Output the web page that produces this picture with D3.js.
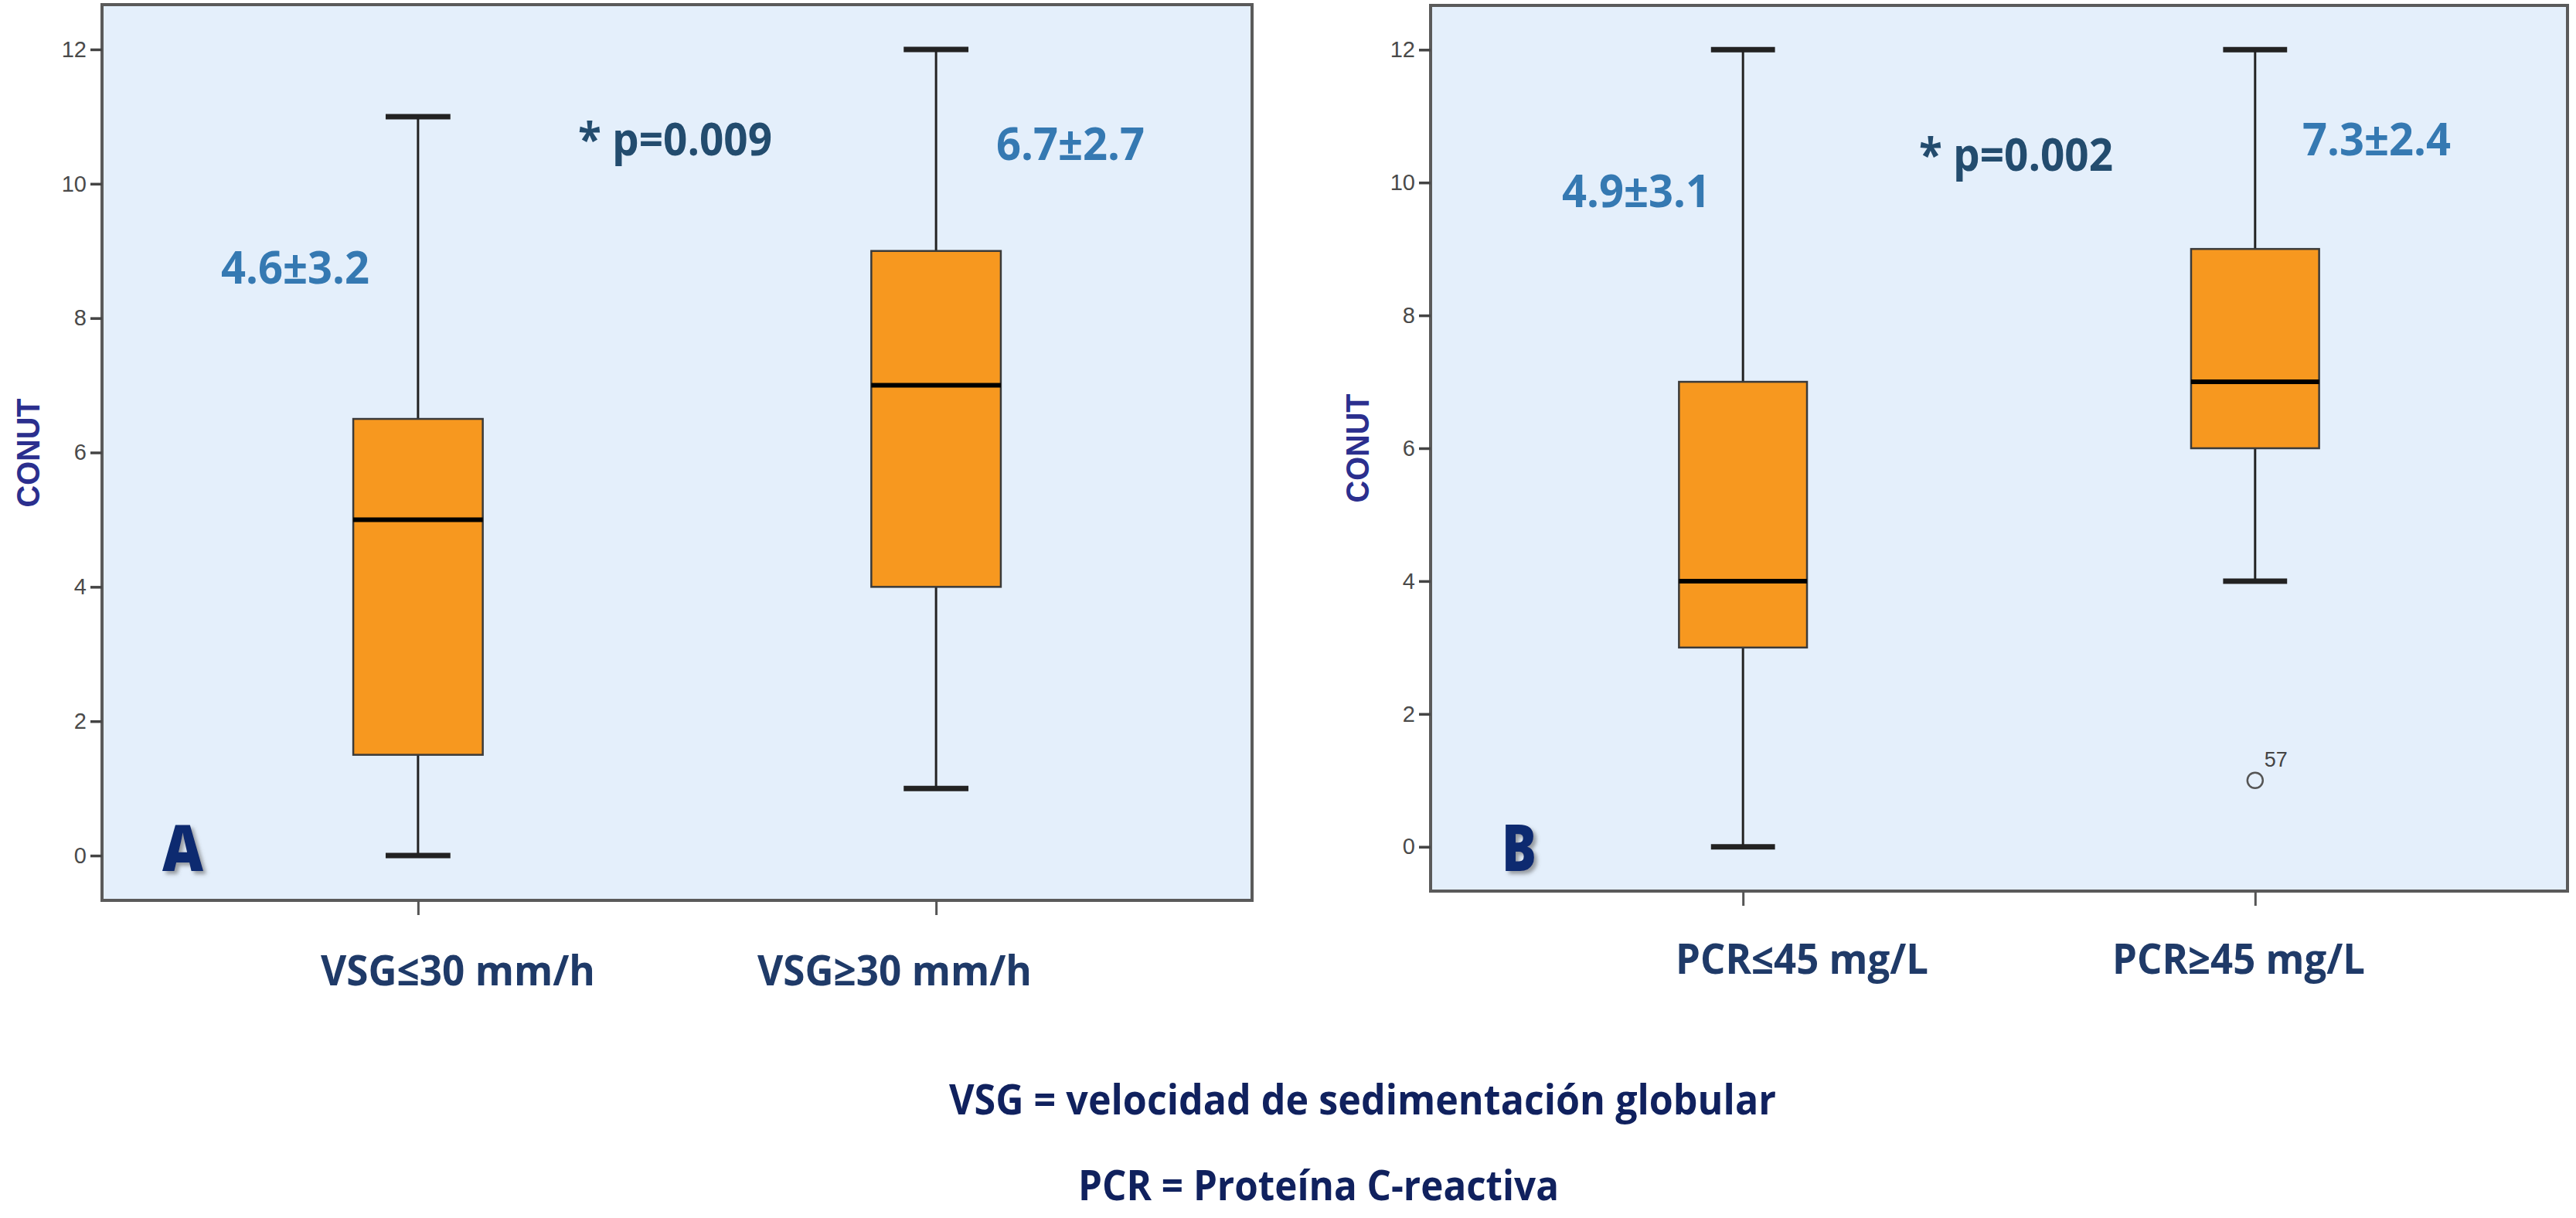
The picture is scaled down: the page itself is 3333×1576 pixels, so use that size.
<!DOCTYPE html>
<html>
<head>
<meta charset="utf-8">
<script src="https://cdn.jsdelivr.net/npm/d3@7"></script>
<style>
  html, body { margin: 0; padding: 0; background: #ffffff; }
  svg { display: block; }
</style>
</head>
<body>
<svg id="chart" width="3333" height="1576"></svg>
<script>
// ---------------- DATA ----------------
const yTicks = [0, 2, 4, 6, 8, 10, 12];
const yLabel = "CONUT";

// Panel A
const catsA   = ["VSG≤30 mm/h", "VSG≥30 mm/h"];
const minA    = [0, 1];
const q1A     = [1.5, 4];
const medA    = [5, 7];
const q3A     = [6.5, 9];
const maxA    = [11, 12];
const meanA   = ["4.6±3.2", "6.7±2.7"];
const pA      = "* p=0.009";

// Panel B
const catsB   = ["PCR≤45 mg/L", "PCR≥45 mg/L"];
const minB    = [0, 4];
const q1B     = [3, 6];
const medB    = [4, 7];
const q3B     = [7, 9];
const maxB    = [12, 12];
const meanB   = ["4.9±3.1", "7.3±2.4"];
const pB      = "* p=0.002";
const outlierGroupB = [1];
const outlierValueB = [1];
const outlierLabelB = ["57"];

const captions = ["VSG = velocidad de sedimentación globular", "PCR = Proteína C-reactiva"];

// ---------------- LAYOUT (pixels) ----------------
const layoutA = {
  x0: 132, x1: 1620, y0: 6, y1: 1165, letter: "A",
  letterPos: { x: 210, y: 1127, w: 53 },
  conut: { x: 36, y: 586 },
  p: { x: 748, y: 201, w: 251 },
  means: [{ x: 478, y: 367, anchor: "end" }, { x: 1289, y: 207, anchor: "start" }],
  labels: [{ x: 415, y: 1275, w: 355 }, { x: 980, y: 1275, w: 355 }]
};
const layoutB = {
  x0: 1851, x1: 3322, y0: 7, y1: 1153, letter: "B",
  letterPos: { x: 1943, y: 1127, w: 45 },
  conut: { x: 1756, y: 580 },
  p: { x: 2483, y: 221, w: 251 },
  means: [{ x: 2213, y: 268, anchor: "end" }, { x: 2979, y: 201, anchor: "start" }],
  labels: [{ x: 2168, y: 1260, w: 327 }, { x: 2733, y: 1260, w: 327 }]
};

const svg = d3.select("#chart");
const defs = svg.append("defs");
const f = defs.append("filter").attr("id", "shadow").attr("x", "-30%").attr("y", "-30%").attr("width", "160%").attr("height", "160%");
f.append("feDropShadow").attr("dx", 4).attr("dy", 4).attr("stdDeviation", 2.5).attr("flood-color", "#555").attr("flood-opacity", 0.55);

const BOLD = "'Open Sans', 'Noto Sans', sans-serif";
const NARROW = "'Liberation Sans Narrow', 'Liberation Sans', Arial, sans-serif";

function drawPanel(L, cats, mins, q1, med, q3, maxs, means, pText, outG, outV, outL) {
  const g = svg.append("g");
  const y = d3.scaleLinear().domain([-2 / 3, 12 + 2 / 3]).range([L.y1, L.y0]);
  const x = d3.scalePoint().domain(cats).range([L.x0, L.x1]).padding(0.61);
  const step = x.step();
  const boxW = step * 0.25;
  const capW = boxW * 0.5;

  // plot background + frame
  g.append("rect")
    .attr("x", L.x0).attr("y", L.y0)
    .attr("width", L.x1 - L.x0).attr("height", L.y1 - L.y0)
    .attr("fill", "#E4EFFB")
    .attr("stroke", "#5a5a5a").attr("stroke-width", 4);

  // y axis
  const yAxis = g.append("g")
    .attr("transform", `translate(${L.x0},0)`)
    .call(d3.axisLeft(y).tickValues(yTicks).tickSize(15).tickPadding(5));
  yAxis.select(".domain").remove();
  yAxis.selectAll(".tick line").attr("stroke", "#444").attr("stroke-width", 3.5);
  yAxis.selectAll(".tick text")
    .attr("font-family", NARROW).attr("font-size", 29).attr("fill", "#4a4a4a");

  // x axis ticks
  const xAxis = g.append("g")
    .attr("transform", `translate(0,${L.y1})`)
    .call(d3.axisBottom(x).tickSize(19).tickFormat(""));
  xAxis.select(".domain").remove();
  xAxis.selectAll(".tick line").attr("stroke", "#555").attr("stroke-width", 3);

  // boxes
  const data = cats.map((c, i) => ({ c, min: mins[i], q1: q1[i], med: med[i], q3: q3[i], max: maxs[i] }));
  const b = g.selectAll(".box").data(data).enter().append("g");
  // whiskers
  b.append("line")
    .attr("x1", d => x(d.c)).attr("x2", d => x(d.c))
    .attr("y1", d => y(d.max)).attr("y2", d => y(d.q3))
    .attr("stroke", "#222").attr("stroke-width", 3);
  b.append("line")
    .attr("x1", d => x(d.c)).attr("x2", d => x(d.c))
    .attr("y1", d => y(d.q1)).attr("y2", d => y(d.min))
    .attr("stroke", "#222").attr("stroke-width", 3);
  // caps
  b.append("line")
    .attr("x1", d => x(d.c) - capW / 2).attr("x2", d => x(d.c) + capW / 2)
    .attr("y1", d => y(d.max)).attr("y2", d => y(d.max))
    .attr("stroke", "#222").attr("stroke-width", 7);
  b.append("line")
    .attr("x1", d => x(d.c) - capW / 2).attr("x2", d => x(d.c) + capW / 2)
    .attr("y1", d => y(d.min)).attr("y2", d => y(d.min))
    .attr("stroke", "#222").attr("stroke-width", 7);
  // box
  b.append("rect")
    .attr("x", d => x(d.c) - boxW / 2).attr("width", boxW)
    .attr("y", d => y(d.q3)).attr("height", d => y(d.q1) - y(d.q3))
    .attr("fill", "#F7981F").attr("stroke", "#3a3a3a").attr("stroke-width", 2.5);
  // median
  b.append("line")
    .attr("x1", d => x(d.c) - boxW / 2).attr("x2", d => x(d.c) + boxW / 2)
    .attr("y1", d => y(d.med)).attr("y2", d => y(d.med))
    .attr("stroke", "#000").attr("stroke-width", 6);

  // outliers
  if (outG) {
    outG.forEach((gi, k) => {
      const cx = x(cats[gi]), cy = y(outV[k]);
      g.append("circle").attr("cx", cx).attr("cy", cy).attr("r", 10)
        .attr("fill", "none").attr("stroke", "#555").attr("stroke-width", 2.5);
      g.append("text").attr("x", cx + 12).attr("y", cy - 18)
        .attr("font-family", NARROW).attr("font-size", 27).attr("fill", "#444")
        .text(outL[k]);
    });
  }

  // y label
  g.append("text")
    .attr("transform", `translate(${L.conut.x + 15},${L.conut.y}) rotate(-90)`)
    .attr("text-anchor", "middle")
    .attr("font-family", "'Liberation Sans', Arial, sans-serif").attr("font-weight", "bold")
    .attr("font-size", 42).attr("fill", "#2B2F8E")
    .attr("textLength", 141).attr("lengthAdjust", "spacingAndGlyphs")
    .text(yLabel);

  // mean labels
  means.forEach((m, i) => {
    g.append("text")
      .attr("x", L.means[i].x).attr("y", L.means[i].y)
      .attr("text-anchor", L.means[i].anchor)
      .attr("font-family", BOLD).attr("font-weight", 700).attr("font-size", 59)
      .attr("fill", "#3579B2")
      .attr("textLength", 192).attr("lengthAdjust", "spacingAndGlyphs")
      .text(m);
  });

  // p-value
  g.append("text")
    .attr("x", L.p.x).attr("y", L.p.y)
    .attr("font-family", BOLD).attr("font-weight", 700).attr("font-size", 59)
    .attr("fill", "#234C6E")
    .attr("textLength", L.p.w).attr("lengthAdjust", "spacingAndGlyphs")
    .text(pText);

  // category labels
  cats.forEach((c, i) => {
    g.append("text")
      .attr("x", L.labels[i].x).attr("y", L.labels[i].y)
      .attr("font-family", BOLD).attr("font-weight", 700).attr("font-size", 53)
      .attr("fill", "#1F3A68")
      .attr("textLength", L.labels[i].w).attr("lengthAdjust", "spacingAndGlyphs")
      .text(c);
  });

  // panel letter
  g.append("text")
    .attr("x", L.letterPos.x).attr("y", L.letterPos.y)
    .attr("font-family", BOLD).attr("font-weight", 800).attr("font-size", 84)
    .attr("fill", "#0C2A6F").attr("filter", "url(#shadow)")
    .attr("textLength", L.letterPos.w).attr("lengthAdjust", "spacingAndGlyphs")
    .text(L.letter);
}

drawPanel(layoutA, catsA, minA, q1A, medA, q3A, maxA, meanA, pA);
drawPanel(layoutB, catsB, minB, q1B, medB, q3B, maxB, meanB, pB, outlierGroupB, outlierValueB, outlierLabelB);

// captions
const capLayout = [{ x: 1228, y: 1442, w: 1070 }, { x: 1395, y: 1553, w: 622 }];
captions.forEach((c, i) => {
  svg.append("text")
    .attr("x", capLayout[i].x).attr("y", capLayout[i].y)
    .attr("font-family", BOLD).attr("font-weight", 700).attr("font-size", 53)
    .attr("fill", "#10215E")
    .attr("textLength", capLayout[i].w).attr("lengthAdjust", "spacingAndGlyphs")
    .text(c);
});
</script>
</body>
</html>
